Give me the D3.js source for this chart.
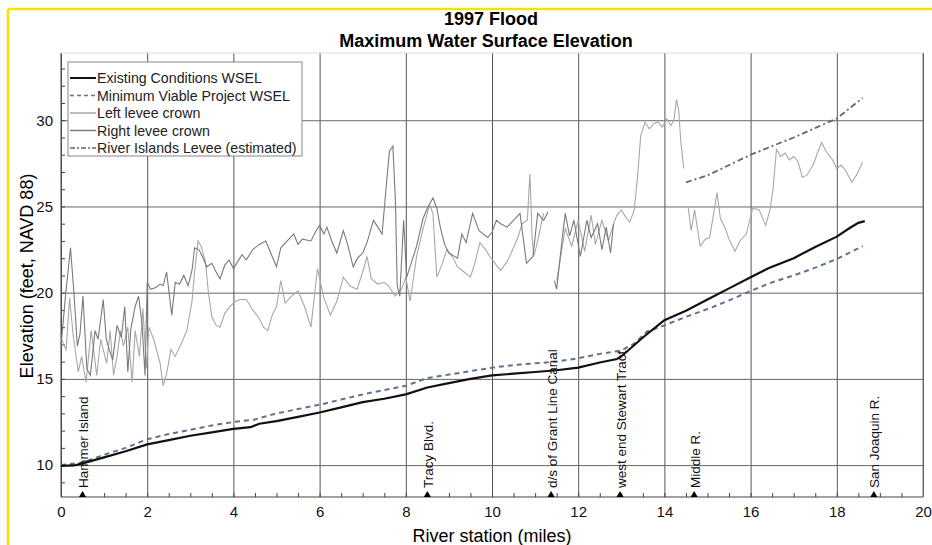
<!DOCTYPE html>
<html>
<head>
<meta charset="utf-8">
<script src="https://cdn.jsdelivr.net/npm/d3@7"></script>
<style>
  body { margin: 0; background: #fff; }
  svg { font-family: "Liberation Sans", Arial, sans-serif; }
</style>
</head>
<body>
<svg id="chart" width="932" height="545"></svg>
<script>
// Data: [river mile, elevation]
const existingWSEL = [[0,9.95],[0.3,9.98],[0.5,10.1],[1.0,10.45],[1.5,10.8],[2.0,11.2],[2.5,11.45],[3.0,11.7],[3.5,11.9],[4.0,12.1],[4.4,12.2],[4.6,12.4],[5.0,12.55],[5.5,12.8],[6.0,13.05],[6.5,13.35],[7.0,13.65],[7.5,13.85],[8.0,14.1],[8.5,14.5],[9.0,14.75],[9.5,15.0],[10.0,15.2],[10.5,15.3],[11.0,15.4],[11.5,15.5],[12.0,15.65],[12.5,15.95],[12.9,16.15],[13.0,16.3],[13.5,17.4],[13.9,18.2],[14.0,18.4],[14.5,18.95],[15.0,19.6],[15.5,20.25],[16.0,20.9],[16.4,21.4],[16.5,21.5],[17.0,22.0],[17.5,22.65],[18.0,23.25],[18.3,23.75],[18.5,24.05],[18.65,24.15]];

const mvpWSEL = [[0,10.0],[0.5,10.15],[1.0,10.6],[1.5,11.0],[2.0,11.5],[2.5,11.8],[3.0,12.05],[3.5,12.3],[4.0,12.5],[4.5,12.65],[5.0,13.0],[5.5,13.25],[6.0,13.5],[6.5,13.8],[7.0,14.1],[7.5,14.35],[8.0,14.6],[8.5,15.05],[9.0,15.25],[9.5,15.45],[10.0,15.65],[10.5,15.8],[11.0,15.9],[11.5,16.0],[12.0,16.2],[12.5,16.45],[13.0,16.65],[13.3,17.05],[13.6,17.75],[14.0,18.1],[14.5,18.6],[15.0,19.05],[15.5,19.55],[16.0,20.1],[16.5,20.6],[17.0,21.0],[17.5,21.45],[18.0,21.95],[18.6,22.7]];

const leftLevee = [[0.0,17.4],[0.06,17.0],[0.12,16.7],[0.2,19.7],[0.28,17.6],[0.4,15.4],[0.48,16.3],[0.58,14.8],[0.7,17.8],[0.83,15.2],[0.92,17.3],[1.06,15.9],[1.14,17.8],[1.22,15.2],[1.3,16.3],[1.38,17.8],[1.45,16.9],[1.55,18.0],[1.65,14.8],[1.72,17.8],[1.82,16.3],[1.9,19.1],[1.98,15.6],[2.04,18.0],[2.15,17.3],[2.3,15.9],[2.37,14.6],[2.45,15.3],[2.55,16.7],[2.65,16.3],[2.8,17.1],[2.92,17.8],[3.04,19.5],[3.1,21.2],[3.18,23.0],[3.25,22.7],[3.35,21.8],[3.42,20.0],[3.5,18.6],[3.6,18.1],[3.69,18.0],[3.8,18.8],[3.92,19.2],[4.05,19.5],[4.15,19.6],[4.3,19.6],[4.45,19.0],[4.6,18.5],[4.7,18.0],[4.8,17.8],[4.9,18.7],[5.0,19.2],[5.1,20.7],[5.2,19.4],[5.35,19.8],[5.5,20.1],[5.65,19.2],[5.8,18.0],[5.95,21.4],[6.1,19.7],[6.25,18.7],[6.4,19.5],[6.55,20.9],[6.7,20.4],[6.87,20.2],[7.0,21.2],[7.1,22.1],[7.2,20.8],[7.35,20.5],[7.5,20.6],[7.6,20.4],[7.75,19.8],[7.9,20.2],[8.0,20.9],[8.1,19.5],[8.25,22.1],[8.4,23.7],[8.55,25.1],[8.63,24.6],[8.72,20.9],[8.85,21.7],[8.95,22.5],[9.1,22.0],[9.2,21.5],[9.35,21.2],[9.5,20.9],[9.6,21.7],[9.72,22.9],[9.85,22.5],[9.95,22.1],[10.1,21.6],[10.2,21.3],[10.35,21.8],[10.5,22.6],[10.6,23.2],[10.7,24.0],[10.82,24.2],[10.88,26.9],[10.93,23.2],[10.97,22.1],[11.06,23.0],[11.15,24.1],[11.2,24.6],[11.35,null],
  [11.5,20.7],[11.6,22.2],[11.7,23.7],[11.85,22.7],[12.0,24.2],[12.15,22.4],[12.3,24.5],[12.4,22.8],[12.55,24.2],[12.7,23.0],[12.85,24.2],[12.9,24.5],[13.0,24.8],[13.1,24.4],[13.2,24.1],[13.3,24.8],[13.38,26.8],[13.45,29.1],[13.55,29.9],[13.65,29.5],[13.75,29.8],[13.85,29.9],[13.95,29.6],[14.05,30.1],[14.15,29.7],[14.22,30.0],[14.28,31.2],[14.33,30.6],[14.38,28.8],[14.45,27.2],[14.5,null],
  [14.55,25.0],[14.62,23.6],[14.7,24.8],[14.83,22.7],[14.95,23.1],[15.05,23.2],[15.15,24.7],[15.22,25.8],[15.3,24.3],[15.4,23.8],[15.5,23.1],[15.64,22.4],[15.75,23.0],[15.9,23.4],[16.05,24.9],[16.2,24.8],[16.35,23.9],[16.45,24.8],[16.52,26.0],[16.6,28.3],[16.7,27.9],[16.8,28.1],[16.9,27.7],[17.0,27.9],[17.1,27.6],[17.2,26.7],[17.3,26.8],[17.45,27.4],[17.55,28.1],[17.65,28.7],[17.75,28.2],[17.9,27.7],[18.0,27.2],[18.1,27.4],[18.2,27.1],[18.35,26.4],[18.45,26.8],[18.55,27.3],[18.6,27.6]];

const rightLevee = [[0.0,16.9],[0.1,19.7],[0.22,22.6],[0.3,20.0],[0.38,16.9],[0.44,17.6],[0.51,19.8],[0.6,15.6],[0.68,15.2],[0.79,17.8],[0.86,17.3],[0.98,19.6],[1.05,17.3],[1.12,16.7],[1.2,16.1],[1.3,18.1],[1.4,17.4],[1.48,19.2],[1.55,15.4],[1.62,17.9],[1.72,19.2],[1.8,19.8],[1.88,18.2],[1.95,15.2],[2.0,20.6],[2.08,20.2],[2.2,20.3],[2.3,20.5],[2.37,20.4],[2.45,21.2],[2.57,18.7],[2.65,20.6],[2.75,20.5],[2.85,21.0],[2.95,20.4],[3.04,21.3],[3.1,22.6],[3.2,22.5],[3.3,22.0],[3.38,21.5],[3.5,21.7],[3.6,21.2],[3.69,20.8],[3.8,21.6],[3.9,21.9],[4.0,21.4],[4.1,21.8],[4.2,22.2],[4.3,21.9],[4.45,22.5],[4.6,22.8],[4.75,23.0],[4.85,22.4],[5.0,21.5],[5.1,22.6],[5.25,23.0],[5.4,23.4],[5.5,22.8],[5.6,23.1],[5.8,23.0],[5.9,23.5],[6.0,23.9],[6.1,23.4],[6.17,23.8],[6.28,23.0],[6.4,22.3],[6.55,23.6],[6.65,22.8],[6.78,21.5],[6.88,22.0],[7.0,22.3],[7.1,22.9],[7.25,24.2],[7.35,23.8],[7.45,23.4],[7.55,26.3],[7.62,28.2],[7.7,28.5],[7.76,25.3],[7.8,20.4],[7.86,19.8],[7.95,24.2],[8.02,20.9],[8.15,21.9],[8.25,22.7],[8.4,24.3],[8.5,24.9],[8.63,25.5],[8.72,24.9],[8.8,23.8],[8.9,22.8],[9.0,22.3],[9.2,22.0],[9.3,23.4],[9.4,22.9],[9.55,24.6],[9.7,23.6],[9.9,23.2],[10.0,23.5],[10.1,24.2],[10.2,24.0],[10.35,23.8],[10.5,24.2],[10.65,24.6],[10.8,21.7],[10.95,22.1],[11.06,24.6],[11.2,24.2],[11.3,24.7],[11.38,null],
  [11.45,20.7],[11.5,20.2],[11.65,23.6],[11.7,24.6],[11.8,23.3],[11.9,24.2],[12.05,22.1],[12.2,24.2],[12.3,23.2],[12.45,24.0],[12.55,22.5],[12.65,23.8],[12.75,22.3],[12.82,24.0]];

const riverIslandsLevee = [[14.5,26.4],[15.0,26.8],[16.0,28.0],[17.0,29.0],[18.0,30.1],[18.6,31.3]];

const landmarkNames = ["Hammer Island", "Tracy Blvd.", "d/s of Grant Line Canal", "west end Stewart Tract", "Middle R.", "San Joaquin R."];
const landmarkMiles = [0.5, 8.5, 11.37, 12.97, 14.69, 18.86];

const xTicks = [0, 2, 4, 6, 8, 10, 12, 14, 16, 18, 20];
const yTicks = [10, 15, 20, 25, 30];

const legendLabels = ["Existing Conditions WSEL", "Minimum Viable Project WSEL", "Left levee crown", "Right levee crown", "River Islands Levee (estimated)"];

const svg = d3.select("#chart");
const plotLeft = 61, plotRight = 923, plotTop = 53, plotBottom = 497;

const x = d3.scaleLinear().domain([0, 20]).range([plotLeft, plotRight]);
const y = d3.scaleLinear().domain([8.15, 33.9]).range([plotBottom, plotTop]);

// Yellow scan border
svg.append("line").attr("x1", 8).attr("x2", 932).attr("y1", 9).attr("y2", 9)
  .attr("stroke", "#f2e400").attr("stroke-width", 2.5);
svg.append("line").attr("x1", 8).attr("x2", 8).attr("y1", 9).attr("y2", 545)
  .attr("stroke", "#f2e400").attr("stroke-width", 2.5);

// Gridlines
svg.append("g")
  .attr("transform", `translate(0,${plotBottom})`)
  .call(d3.axisBottom(x).tickValues(xTicks).tickSize(-(plotBottom - plotTop)).tickFormat(""))
  .call(g => g.select(".domain").remove())
  .selectAll("line").attr("stroke", "#555");

svg.append("g")
  .attr("transform", `translate(${plotLeft},0)`)
  .call(d3.axisLeft(y).tickValues(yTicks).tickSize(-(plotRight - plotLeft)).tickFormat(""))
  .call(g => g.select(".domain").remove())
  .selectAll("line").attr("stroke", "#666");

// Minor ticks
svg.append("g")
  .attr("transform", `translate(0,${plotBottom})`)
  .call(d3.axisBottom(x).tickValues(d3.range(0, 20.01, 0.5)).tickSize(-4).tickFormat(""))
  .call(g => g.select(".domain").remove())
  .selectAll("line").attr("stroke", "#444");

svg.append("g")
  .attr("transform", `translate(${plotLeft},0)`)
  .call(d3.axisLeft(y).tickValues(d3.range(9, 34, 1)).tickSize(-4).tickFormat(""))
  .call(g => g.select(".domain").remove())
  .selectAll("line").attr("stroke", "#444");

// Frame
svg.append("line").attr("x1", plotLeft).attr("x2", plotLeft).attr("y1", plotTop).attr("y2", plotBottom).attr("stroke", "#444");
svg.append("line").attr("x1", plotLeft).attr("x2", plotRight).attr("y1", plotBottom).attr("y2", plotBottom).attr("stroke", "#444");
svg.append("line").attr("x1", plotRight).attr("x2", plotRight).attr("y1", plotTop).attr("y2", plotBottom).attr("stroke", "#777");
svg.append("line").attr("x1", plotLeft).attr("x2", plotRight).attr("y1", plotTop).attr("y2", plotTop).attr("stroke", "#ddd");

// Tick labels
svg.append("g")
  .attr("transform", `translate(0,${plotBottom})`)
  .call(d3.axisBottom(x).tickValues(xTicks).tickSize(0).tickPadding(9))
  .call(g => g.select(".domain").remove())
  .selectAll("text").attr("font-size", "15px").attr("fill", "#111")
  .attr("font-family", "Liberation Sans, Arial, sans-serif");

svg.append("g")
  .attr("transform", `translate(${plotLeft},0)`)
  .call(d3.axisLeft(y).tickValues(yTicks).tickSize(0).tickPadding(8))
  .call(g => g.select(".domain").remove())
  .selectAll("text").attr("font-size", "15px").attr("fill", "#111")
  .attr("font-family", "Liberation Sans, Arial, sans-serif");

// Series
const line = d3.line()
  .defined(d => d[1] != null)
  .x(d => x(d[0]))
  .y(d => y(d[1]));

svg.append("path").datum(leftLevee).attr("d", line)
  .attr("fill", "none").attr("stroke", "#a8a8a8").attr("stroke-width", 1.1);
svg.append("path").datum(rightLevee).attr("d", line)
  .attr("fill", "none").attr("stroke", "#7a7a7a").attr("stroke-width", 1.1);
svg.append("path").datum(riverIslandsLevee).attr("d", line)
  .attr("fill", "none").attr("stroke", "#666").attr("stroke-width", 1.8)
  .attr("stroke-dasharray", "6,3,2,3");
svg.append("path").datum(mvpWSEL).attr("d", line)
  .attr("fill", "none").attr("stroke", "#5f7391").attr("stroke-width", 2)
  .attr("stroke-dasharray", "5,4");
svg.append("path").datum(existingWSEL).attr("d", line)
  .attr("fill", "none").attr("stroke", "#111").attr("stroke-width", 2.2);

// Landmarks
const marks = svg.append("g");
landmarkNames.forEach((name, i) => {
  const px = x(landmarkMiles[i]);
  marks.append("path")
    .attr("d", d3.symbol().type(d3.symbolTriangle).size(22)())
    .attr("transform", `translate(${px},${plotBottom - 2})`)
    .attr("fill", "#000");
  marks.append("text")
    .attr("transform", `translate(${px + 5.5},${plotBottom - 9}) rotate(-90)`)
    .attr("font-size", "13.5px")
    .attr("fill", "#111")
    .text(name);
});

// Legend
const legend = svg.append("g");
legend.append("rect")
  .attr("x", 68).attr("y", 62).attr("width", 234).attr("height", 94)
  .attr("fill", "#fff").attr("stroke", "#888");
const legendStyles = [
  {stroke: "#111", width: 2, dash: null},
  {stroke: "#5f7391", width: 1.6, dash: "4,3"},
  {stroke: "#a8a8a8", width: 1.5, dash: null},
  {stroke: "#7a7a7a", width: 1.5, dash: null},
  {stroke: "#666", width: 1.5, dash: "5,2,2,2"}
];
legendLabels.forEach((label, i) => {
  const cy = 78 + i * 17.5;
  legend.append("line")
    .attr("x1", 70).attr("x2", 96).attr("y1", cy).attr("y2", cy)
    .attr("stroke", legendStyles[i].stroke)
    .attr("stroke-width", legendStyles[i].width)
    .attr("stroke-dasharray", legendStyles[i].dash);
  legend.append("text")
    .attr("x", 97).attr("y", cy + 5)
    .attr("font-size", "14.2px")
    .attr("fill", "#222")
    .text(label);
});

// Titles
svg.append("text").attr("x", 491).attr("y", 25).attr("text-anchor", "middle")
  .attr("font-size", "18px").attr("font-weight", "bold").text("1997 Flood");
svg.append("text").attr("x", 486).attr("y", 47).attr("text-anchor", "middle")
  .attr("font-size", "18px").attr("font-weight", "bold").text("Maximum Water Surface Elevation");

// Axis labels
svg.append("text").attr("x", 492).attr("y", 542).attr("text-anchor", "middle")
  .attr("font-size", "18px").text("River station (miles)");
svg.append("text")
  .attr("transform", `translate(33,276) rotate(-90)`)
  .attr("text-anchor", "middle")
  .attr("font-size", "18px").text("Elevation (feet, NAVD 88)");
</script>
</body>
</html>
